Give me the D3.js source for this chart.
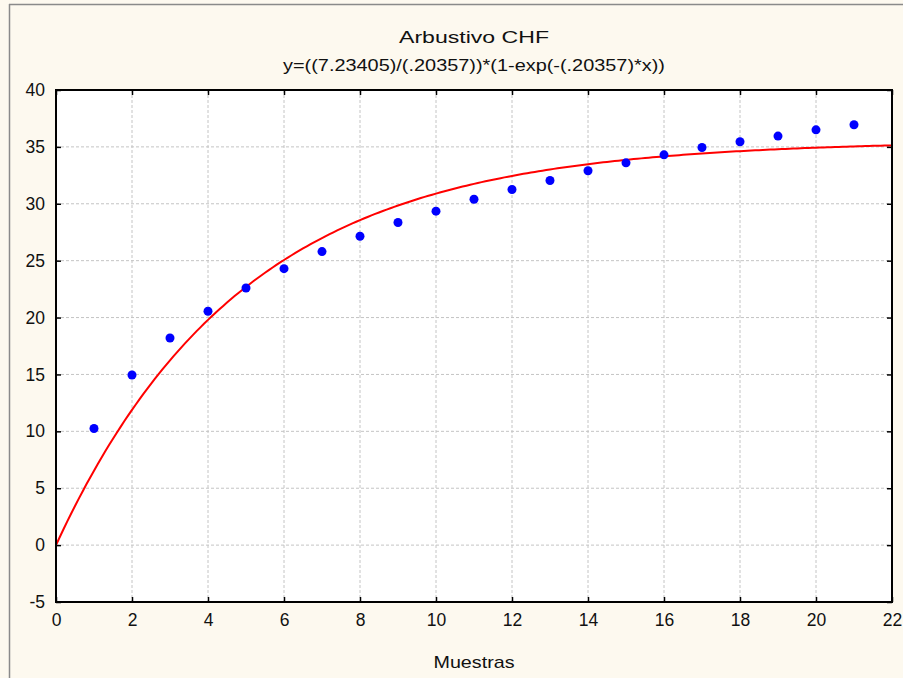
<!DOCTYPE html>
<html><head><meta charset="utf-8">
<script src="https://cdn.jsdelivr.net/npm/d3@7"></script>
<style>
html,body{margin:0;padding:0;background:#fdf9ef;}
svg{display:block;}
text{font-family:"Liberation Sans",Arial,sans-serif;fill:#111;}
</style></head><body>
<svg id="chart" width="903" height="678"></svg>
<script>
const title = "Arbustivo CHF";
const subtitle = "y=((7.23405)/(.20357))*(1-exp(-(.20357)*x))";
const xLabel = "Muestras";
const muestras = [1,2,3,4,5,6,7,8,9,10,11,12,13,14,15,16,17,18,19,20,21];
const valores = [10.25,14.95,18.2,20.55,22.6,24.3,25.8,27.15,28.35,29.35,30.4,31.25,32.05,32.9,33.6,34.3,34.95,35.45,35.95,36.5,36.95];
const xTicks = [0,2,4,6,8,10,12,14,16,18,20,22];
const yTicks = [-5,0,5,10,15,20,25,30,35,40];
const paramA = 7.23405, paramB = 0.20357;

const svg = d3.select("#chart");
const L = 56, R = 892, T = 90, B = 602;
const x = d3.scaleLinear().domain([0,22]).range([L,R]);
const y = d3.scaleLinear().domain([-5,40]).range([B,T]);

// outer frame
svg.append("line").attr("x1",9).attr("x2",903).attr("y1",4.5).attr("y2",4.5).attr("stroke","#8a8a8a").attr("stroke-width",1.5);
svg.append("line").attr("x1",9.5).attr("x2",9.5).attr("y1",4).attr("y2",678).attr("stroke","#8a8a8a").attr("stroke-width",1.5);

svg.append("rect").attr("x",L).attr("y",T).attr("width",R-L).attr("height",B-T).attr("fill","#fff");

// grid
svg.append("g").selectAll("line").data(xTicks.filter(d=>d>0&&d<22)).join("line")
  .attr("x1",d=>x(d)).attr("x2",d=>x(d)).attr("y1",T).attr("y2",B)
  .attr("stroke","#c4c4c4").attr("stroke-dasharray","3,2");
svg.append("g").selectAll("line").data(yTicks.filter(d=>d>-5&&d<40)).join("line")
  .attr("y1",d=>y(d)).attr("y2",d=>y(d)).attr("x1",L).attr("x2",R)
  .attr("stroke","#c4c4c4").attr("stroke-dasharray","3,2");

// curve
const xs = d3.range(0, 22.0001, 0.1);
const line = d3.line().x(d=>x(d)).y(d=>y((paramA/paramB)*(1-Math.exp(-paramB*d))));
svg.append("path").datum(xs).attr("d",line).attr("fill","none").attr("stroke","#ff0000").attr("stroke-width",2);

// points
svg.append("g").selectAll("circle").data(muestras).join("circle")
  .attr("cx",(d)=>x(d)).attr("cy",(d,i)=>y(valores[i])).attr("r",4.5).attr("fill","#0000ff");

// axes
const fmt = d => String(d);
const axB = d3.axisBottom(x).tickValues(xTicks).tickSize(-5).tickPadding(12).tickFormat(fmt);
const axT = d3.axisTop(x).tickValues(xTicks).tickSize(-5).tickFormat("");
const axL = d3.axisLeft(y).tickValues(yTicks).tickSize(-5).tickPadding(11).tickFormat(fmt);
const axR = d3.axisRight(y).tickValues(yTicks).tickSize(-5).tickFormat("");
function style(g){ g.select(".domain").remove(); g.selectAll(".tick line").attr("stroke","#000").attr("stroke-width",1.5);
  g.selectAll("text").attr("font-size",17.5).attr("fill","#111").attr("font-family","'Liberation Sans',Arial,sans-serif"); }
svg.append("g").attr("transform",`translate(0,${B})`).call(axB).call(style);
svg.append("g").attr("transform",`translate(0,${T})`).call(axT).call(style);
svg.append("g").attr("transform",`translate(${L},0)`).call(axL).call(style);
svg.append("g").attr("transform",`translate(${R},0)`).call(axR).call(style);
svg.append("rect").attr("x",L).attr("y",T).attr("width",R-L).attr("height",B-T).attr("fill","none").attr("stroke","#000").attr("stroke-width",2);

// titles
svg.append("text").attr("x",(L+R)/2).attr("y",43).attr("text-anchor","middle").attr("font-size",17)
  .attr("textLength",150).attr("lengthAdjust","spacingAndGlyphs").text(title);
svg.append("text").attr("x",(L+R)/2).attr("y",71).attr("text-anchor","middle").attr("font-size",17)
  .attr("textLength",382).attr("lengthAdjust","spacingAndGlyphs").text(subtitle);
svg.append("text").attr("x",(L+R)/2).attr("y",668).attr("text-anchor","middle").attr("font-size",17)
  .attr("textLength",81).attr("lengthAdjust","spacingAndGlyphs").text(xLabel);
</script>
</body></html>
